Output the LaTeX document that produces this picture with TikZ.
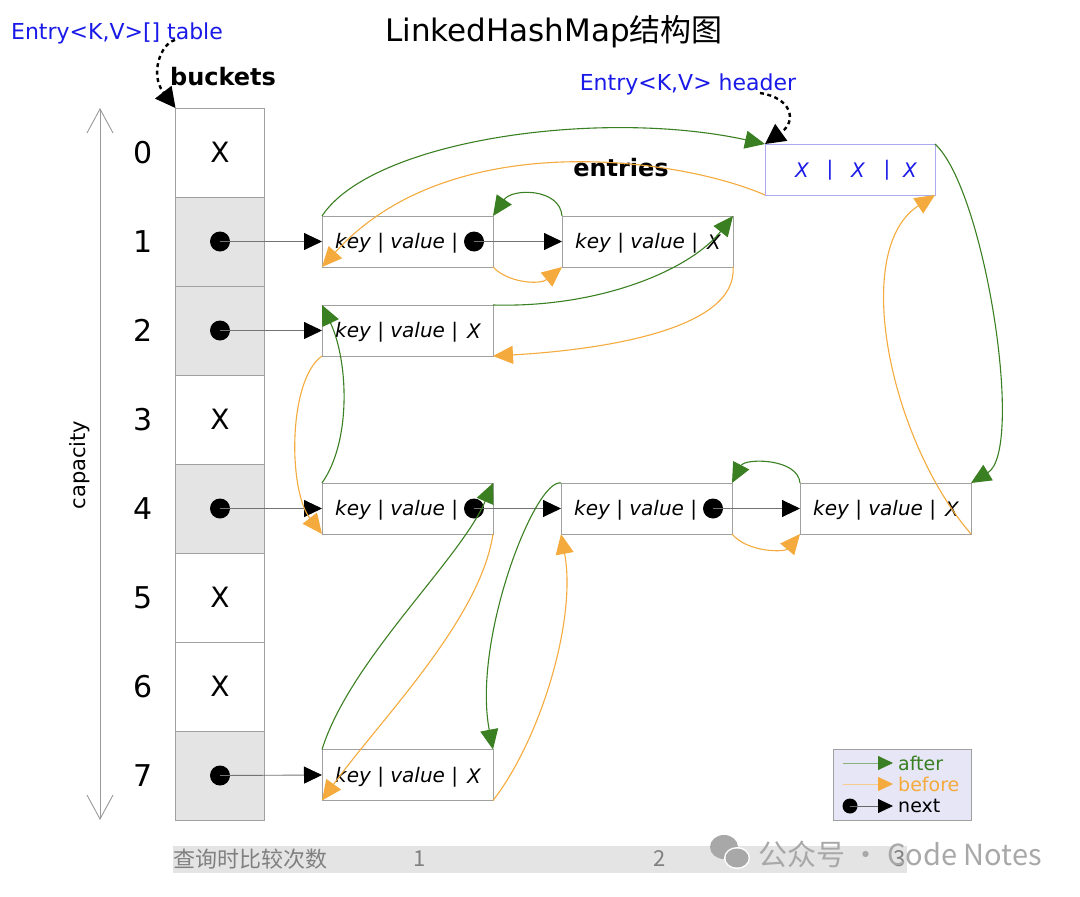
\documentclass[tikz,border=0pt]{standalone}
\usepackage{fontspec}
\setmainfont{DejaVu Sans}
\newfontfamily\cjk{Noto Sans CJK SC}
\usetikzlibrary{arrows.meta,calc}
\definecolor{agreen}{HTML}{3A7F22}
\definecolor{aorange}{HTML}{F4AA3C}
\definecolor{bordergray}{HTML}{A0A0A0}
\definecolor{cellgray}{HTML}{E4E4E4}
\definecolor{legbg}{HTML}{E6E6F6}
\definecolor{hdrblue}{HTML}{1A1AE8}
\definecolor{hdrborder}{HTML}{AAAAF0}
\definecolor{txtgray}{HTML}{808080}
\definecolor{wmgray}{HTML}{A8A8A8}
\tikzset{
  fs/.style={font=\fontsize{#1}{#1}\selectfont},
  cell/.style={draw=bordergray, line width=1pt, minimum width=89pt, minimum height=89pt, inner sep=0pt, outer sep=0pt},
  entrybox/.style={draw=bordergray, line width=1pt, minimum width=171pt, minimum height=51pt, inner sep=0pt, outer sep=0pt, fill=white},
  etext/.style={font=\fontsize{20}{20}\selectfont\itshape, anchor=west, inner sep=0pt},
  digit/.style={fs=30, inner sep=0pt},
  bx/.style={fs=28, inner sep=0pt},
  bdot/.style={circle, fill=black, minimum size=20pt, inner sep=0pt},
  edot/.style={circle, fill=black, minimum size=20pt, inner sep=0pt},
  nxt/.style={draw=black!55, line width=0.9pt, -{Triangle[length=18pt,width=17pt,color=black]}},
  aft/.style={draw=agreen, line width=1.1pt, -{Triangle[length=20pt,width=18pt]}},
  bef/.style={draw=aorange, line width=1.1pt, -{Triangle[length=20pt,width=18pt]}},
  ptr/.style={draw=black, line width=2.4pt, dash pattern=on 4pt off 3.5pt, -{Triangle[length=20pt,width=21pt,line width=0pt]}},
  lbl/.style={fs=22, text=hdrblue, inner sep=0pt},
}
\begin{document}
\begin{tikzpicture}[x=1pt,y=-1pt]
\useasboundingbox (0,0) rectangle (1080,897);

% title and labels
\node[inner sep=0pt, font=\fontsize{31}{31}\selectfont] (title) at (554,32) {LinkedHashMap{\cjk 结构图}};
\node[lbl] (tbl) at (117,33) {Entry<K,V>[] table};
\node[inner sep=0pt, font=\fontsize{24}{24}\selectfont\bfseries] (bk) at (223,77) {buckets};
\node[lbl] (hl) at (688,84) {Entry<K,V> header};
\node[inner sep=0pt, font=\fontsize{24}{24}\selectfont\bfseries] (ent) at (621,168) {entries};

% buckets
\foreach \i/\fc/\isx in {0/white/1,1/cellgray/0,2/cellgray/0,3/white/1,4/cellgray/0,5/white/1,6/white/1,7/cellgray/0}{
  \node[cell, fill=\fc] (b\i) at (220,{152.5+89*\i}) {};
  \node[digit] (n\i) at (143,{152.5+89*\i}) {\i};
  \ifnum\isx=1 \node[bx] (bx\i) at (b\i) {X}; \else \node[bdot] (bd\i) at (b\i) {}; \fi
}

% capacity arrow
\coordinate (ct) at (100,108);
\coordinate (cb) at (100,820);
\draw[draw=black!40, line width=0.9pt, {Straight Barb[length=24pt,width=26pt]}-{Straight Barb[length=24pt,width=26pt]}] (ct) -- (cb);
\node[fs=21, rotate=90, inner sep=0pt] (cap) at (80,465) {capacity};

% header
\node[draw=hdrborder, line width=1pt, minimum width=170pt, minimum height=51pt, inner sep=0pt, outer sep=0pt, fill=white] (hdr) at (850,169.5) {};
\node[etext, anchor=center, text=hdrblue] (h1) at (802,170) {X};
\node[etext, anchor=center, text=hdrblue, font=\fontsize{20}{20}\selectfont] (h2) at (830,170) {|};
\node[etext, anchor=center, text=hdrblue] (h3) at (858,170) {X};
\node[etext, anchor=center, text=hdrblue, font=\fontsize{20}{20}\selectfont] (h4) at (887,170) {|};
\node[etext, anchor=center, text=hdrblue] (h5) at (910,170) {X};

% entries
\node[entrybox] (e1a) at (407.5,241.5) {};
\node[entrybox] (e1b) at (647.5,241.5) {};
\node[entrybox] (e2)  at (407.5,330.5) {};
\node[entrybox] (e4a) at (407.5,508.5) {};
\node[entrybox] (e4b) at (646.5,508.5) {};
\node[entrybox] (e4c) at (885.5,508.5) {};
\node[entrybox] (e7)  at (407.5,775) {};

\foreach \e in {e1a,e1b,e2,e4a,e4b,e4c,e7}{
  \node[etext] (t\e) at ($(\e.west)+(13,2)$) {key | value |};
}
\foreach \e in {e1b,e2,e4c,e7}{
  \node[etext, anchor=center] (x\e) at ($(\e.west)+(152,1)$) {X};
}
\node[edot] (d1a) at ($(e1a.west)+(152,0)$) {};
\node[edot] (d4a) at ($(e4a.west)+(152,0)$) {};
\node[edot] (d4b) at ($(e4b.west)+(152,0)$) {};

% next pointers
\draw[nxt] (bd1.center) -- (e1a.west);
\draw[nxt] (bd2.center) -- (e2.west);
\draw[nxt] (bd4.center) -- (e4a.west);
\draw[nxt] (bd7.center) -- (e7.west);
\draw[nxt] (d1a.center) -- (e1b.west);
\draw[nxt] (d4a.center) -- (e4b.west);
\draw[nxt] (d4b.center) -- (e4c.west);

% after (green) and before (orange)
\draw[aft] (e1a.north west) .. controls (372,140) and (600,108) .. (hdr.north west);
\draw[bef] (hdr.south west) .. controls (680,158) and (450,125) .. (e1a.south west);
\draw[aft] (e1b.north west) .. controls (560,188) and (512,188) .. (e1a.north east);
\draw[bef] (e1a.south east) .. controls (508,283) and (540,285) .. (e1b.south west);
\draw[aft] (e2.north east) .. controls (600,308) and (690,270) .. (e1b.north east);
\draw[bef] (e1b.south east) .. controls (738,330) and (600,350) .. (e2.south east);
\draw[aft] (e4a.north west) .. controls (352,440) and (348,360) .. (e2.north west);
\draw[bef] (e2.south west) .. controls (288,380) and (288,490) .. (e4a.south west);
\draw[aft] (e7.north west) .. controls (350,660) and (460,560) .. (e4a.north east);
\draw[bef] (e4a.south east) .. controls (480,620) and (380,720) .. (e7.south west);
\draw[aft] (e4b.north west) .. controls (535,478) and (472,640) .. (e7.north east);
\draw[bef] (e7.south east) .. controls (540,740) and (577,620) .. (e4b.south west);
\draw[aft] (e4c.north west) .. controls (798,458) and (745,458) .. (e4b.north east);
\draw[bef] (e4b.south east) .. controls (748,553) and (785,552) .. (e4c.south west);
\draw[aft] (hdr.north east) .. controls (985,190) and (1025,450) .. (e4c.north east);
\draw[bef] (e4c.south east) .. controls (890,440) and (850,250) .. (hdr.south east);

% dotted pointers
\coordinate (tblp) at (175,40);
\draw[ptr] (tblp) .. controls (160,44) and (150,75) .. (b0.north west);
\coordinate (hlp) at (760,93);
\draw[ptr] (hlp) .. controls (792,98) and (797,121) .. (hdr.north west);

% legend
\node[draw=bordergray, line width=1pt, fill=legbg, minimum width=138pt, minimum height=71pt, inner sep=0pt] (leg) at (902,784.5) {};
\coordinate (la1) at (843,763); \coordinate (la2) at (893,763);
\coordinate (lb1) at (843,784); \coordinate (lb2) at (893,784);
\coordinate (lc2) at (893,806);
\draw[draw=agreen!60, line width=0.8pt, -{Triangle[length=15pt,width=14pt,color=agreen]}] (la1) -- (la2);
\draw[draw=aorange!60, line width=0.8pt, -{Triangle[length=15pt,width=14pt,color=aorange]}] (lb1) -- (lb2);
\node[circle, fill=black, minimum size=15pt, inner sep=0pt] (ld) at (850,806) {};
\draw[draw=black!60, line width=0.8pt, -{Triangle[length=15pt,width=14pt,color=black]}] (ld.center) -- (lc2);
\node[fs=19, anchor=west, text=agreen, inner sep=0pt] (lat) at (898,763) {after};
\node[fs=19, anchor=west, text=aorange, inner sep=0pt] (lbt) at (898,784) {before};
\node[fs=19, anchor=west, text=black, inner sep=0pt] (lct) at (898,806) {next};

% bottom bar
\fill[cellgray] (173,846) rectangle (907,873);
\node[anchor=west, inner sep=0pt, text=txtgray, font=\cjk\fontsize{22}{22}\selectfont] (q) at (173,859) {查询时比较次数};
\node[inner sep=0pt, text=txtgray, font=\cjk\fontsize{22}{22}\selectfont] (q1) at (420,859) {1};
\node[inner sep=0pt, text=txtgray, font=\cjk\fontsize{22}{22}\selectfont] (q2) at (660,859) {2};
\node[inner sep=0pt, text=txtgray, font=\cjk\fontsize{22}{22}\selectfont] (q3) at (900,859) {3};

% watermark
\fill[wmgray] (724,847) ellipse (14pt and 12pt);
\fill[white] (737,858) ellipse (13pt and 11pt);
\fill[wmgray] (737,858) ellipse (11.5pt and 9.5pt);
\node[anchor=west, inner sep=0pt, text=wmgray, font=\cjk\fontsize{29}{29}\selectfont] (wm) at (758,854) {公众号 · Code Notes};
\end{tikzpicture}
\end{document}
